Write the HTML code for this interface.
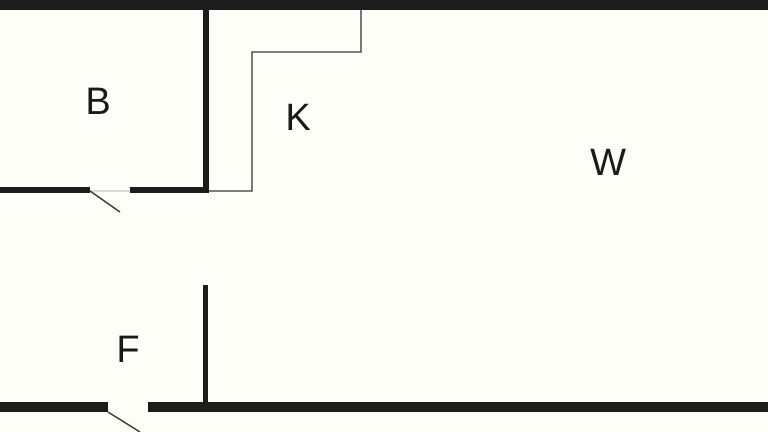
<!DOCTYPE html>
<html><head><meta charset="utf-8"><style>
html,body{margin:0;padding:0;background:#fefef9;}
svg{display:block}
text{font-family:"Liberation Sans",sans-serif;font-size:38px;fill:#1a1a1a;text-anchor:middle}
</style></head><body>
<svg width="768" height="432" viewBox="0 0 768 432">
<rect width="768" height="432" fill="#fefef9"/>
<rect x="0" y="0" width="768" height="10" fill="#1c1c1c"/>
<rect x="203" y="0" width="6" height="193" fill="#1c1c1c"/>
<rect x="0" y="187" width="90" height="6" fill="#1c1c1c"/>
<rect x="130" y="187" width="79" height="6" fill="#1c1c1c"/>
<line x1="90" y1="191" x2="130" y2="191" stroke="#bbb" stroke-width="1"/>
<line x1="90" y1="191" x2="120" y2="212" stroke="#333" stroke-width="1.5"/>
<polyline points="209,191 252,191 252,52 361,52 361,10" fill="none" stroke="#333" stroke-width="1.3"/>
<rect x="0" y="402" width="108" height="10" fill="#1c1c1c"/>
<rect x="148" y="402" width="620" height="10" fill="#1c1c1c"/>
<rect x="203" y="285" width="5" height="120" fill="#1c1c1c"/>
<line x1="108" y1="412" x2="140" y2="432" stroke="#333" stroke-width="1.5"/>
<text x="98" y="114">B</text>
<text x="298" y="130">K</text>
<text x="608" y="175">W</text>
<text x="128" y="362">F</text>
</svg>
</body></html>
